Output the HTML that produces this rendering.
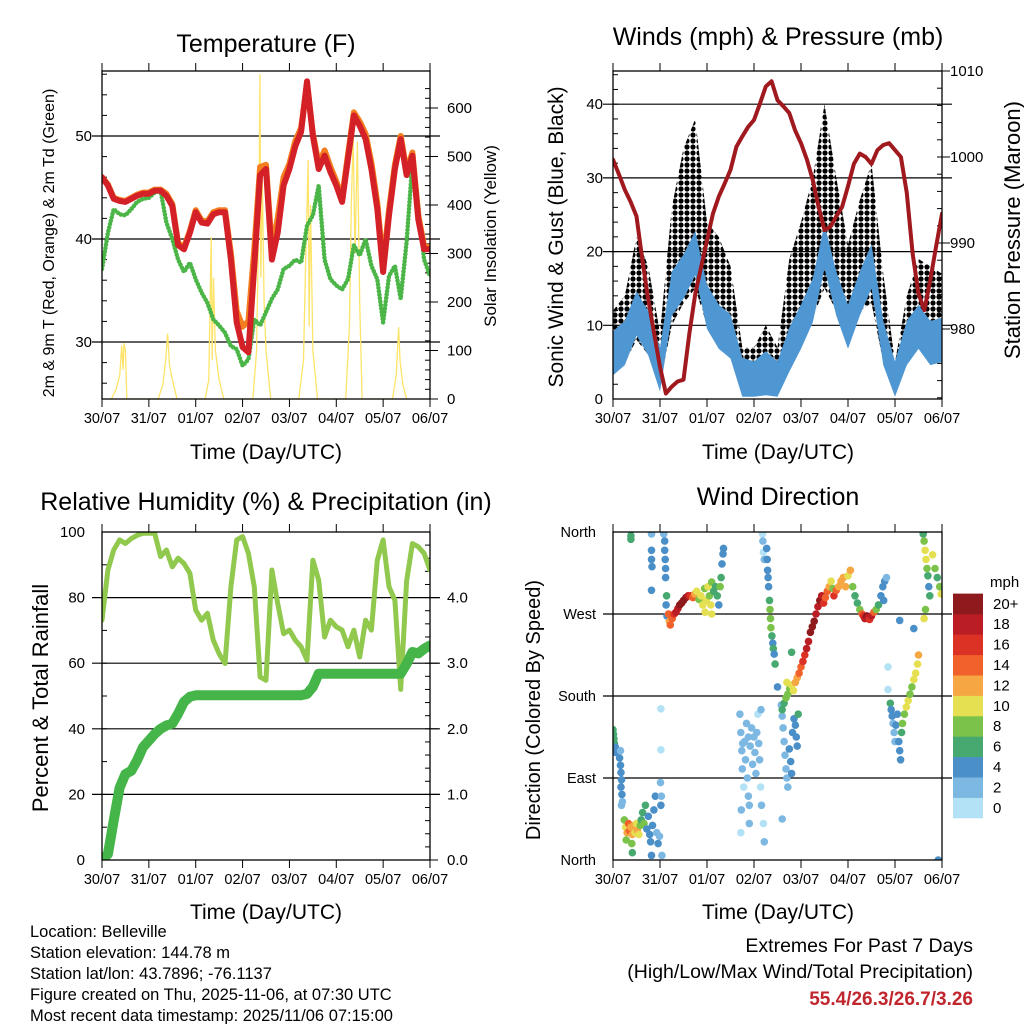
<!DOCTYPE html>
<html><head><meta charset="utf-8"><style>
html,body{margin:0;padding:0;background:#fff}
svg{display:block;font-family:"Liberation Sans",Arial,sans-serif}
</style></head><body>
<svg id="c" width="1024" height="1024" viewBox="0 0 1024 1024" xmlns="http://www.w3.org/2000/svg">
<rect width="1024" height="1024" fill="#fff"/>
<defs>
<clipPath id="cp1"><rect x="102" y="71" width="328" height="328"/></clipPath>
<clipPath id="cp2"><rect x="613" y="71" width="329" height="328"/></clipPath>
<clipPath id="cp3"><rect x="102" y="532" width="328" height="328"/></clipPath>
<clipPath id="cp4"><rect x="613" y="532" width="329" height="328"/></clipPath>
<pattern id="dots" width="6" height="6" patternUnits="userSpaceOnUse"><circle cx="3" cy="3" r="2.6" fill="#000"/></pattern>
</defs>
<text x="266" y="52" font-size="25" text-anchor="middle">Temperature (F)</text>
<text x="778" y="45" font-size="25" text-anchor="middle">Winds (mph) &amp; Pressure (mb)</text>
<text x="266" y="510" font-size="25" text-anchor="middle">Relative Humidity (%) &amp; Precipitation (in)</text>
<text x="778" y="505" font-size="25" text-anchor="middle">Wind Direction</text>
<text transform="translate(54,243) rotate(-90)" font-size="16" text-anchor="middle">2m &amp; 9m T (Red, Orange) &amp; 2m Td (Green)</text>
<text transform="translate(496,236) rotate(-90)" font-size="17" text-anchor="middle">Solar Insolation (Yellow)</text>
<text transform="translate(563,237) rotate(-90)" font-size="21" text-anchor="middle">Sonic Wind &amp; Gust (Blue, Black)</text>
<text transform="translate(1020,230) rotate(-90)" font-size="22" text-anchor="middle">Station Pressure (Maroon)</text>
<text transform="translate(48,698) rotate(-90)" font-size="22" text-anchor="middle">Percent &amp; Total Rainfall</text>
<text transform="translate(540,710) rotate(-90)" font-size="20" text-anchor="middle">Direction (Colored By Speed)</text>
<text x="266" y="459" font-size="21" text-anchor="middle">Time (Day/UTC)</text>
<text x="778" y="459" font-size="21" text-anchor="middle">Time (Day/UTC)</text>
<text x="266" y="919" font-size="21" text-anchor="middle">Time (Day/UTC)</text>
<text x="778" y="919" font-size="21" text-anchor="middle">Time (Day/UTC)</text>
<g font-size="16.5">
<text x="30" y="937">Location: Belleville</text>
<text x="30" y="958">Station elevation: 144.78 m</text>
<text x="30" y="979">Station lat/lon: 43.7896; -76.1137</text>
<text x="30" y="1000">Figure created on Thu, 2025-11-06, at 07:30 UTC</text>
<text x="30" y="1021">Most recent data timestamp: 2025/11/06 07:15:00</text>
</g>
<g font-size="19.5" text-anchor="end">
<text x="973" y="952">Extremes For Past 7 Days</text>
<text x="973" y="978">(High/Low/Max Wind/Total Precipitation)</text>
<text x="973" y="1005" font-size="19" font-weight="bold" fill="#c0262d">55.4/26.3/26.7/3.26</text>
</g>
<text x="990" y="587" font-size="15">mph</text>
</svg>
<script>
// ---------- data ----------
var dayLabels = ["30/07","31/07","01/07","02/07","03/07","04/07","05/07","06/07"];
var tempRed = [46,45.2,43.9,43.7,43.6,43.9,44.2,44.4,44.4, 44.7,44.7,44.2,43.2,39.4,39,40.6,42.6, 41.6,41.5,42.4,42.6,42.6,38,31.9,29.5, 29,37.4,46.2,46.8,38,40.6,45.2,46.8, 49,50.4,55.3,50,46.8,48.1,46.5,45.2, 43.6,47.8,52,51,49.7,46.8,42.9,36.8, 42.3,46.8,49.7,46.2,48.1,41.9,39,39];
var tempOrange = [46,45.3,44,43.8,43.7,44,44.3,44.5,44.5, 44.8,44.8,44.4,43.4,39.6,39.2,40.8,42.8, 41.8,41.7,42.6,42.8,42.8,38.6,33,31.5, 32,39,47,47.2,39,42,46,47.3, 49.5,50.8,55,50.2,47.3,48.6,47,45.6, 44,48.2,52.3,51.4,50.2,47.4,43.5,37.5, 42.8,47.2,50,46.6,48.4,42.3,39.3,39.2];
var tempDew = [37.1,40.6,42.9,42.4,42.3,42.9,43.6,43.9,44, 44.5,44.7,41.6,40,38,36.8,37.7,36.1, 34.8,33.8,32.2,31.6,30.9,29.6,29.3,27.7, 28.3,32.2,31.6,32.9,34.2,35.1,37.1,37.4, 38,37.7,41.3,42.3,45.2,38,36.1,35.5, 35.1,36.1,39.4,38.4,40,37.4,36.1,31.9, 36.4,37.4,34.2,39.7,47.5,43.2,38,36.4];
var solarT = [0.2,0.3,0.38,0.42,0.45,0.47,0.5,0.53, 1.2,1.3,1.36,1.4,1.44,1.5,1.6, 2.2,2.28,2.33,2.35,2.38,2.42,2.5,2.6, 3.22,3.3,3.35,3.37,3.39,3.42,3.46,3.5,3.6, 4.2,4.3,4.35,4.4,4.42,4.45,4.5,4.6, 5.2,5.28,5.32,5.36,5.4,5.45,5.5,5.55, 6.2,6.28,6.33,6.36,6.42,6.5];
var solarV = [0,20,50,110,60,115,100,0, 0,30,80,135,70,40,0, 0,40,334,80,250,100,40,0, 0,100,400,670,250,450,200,100,0, 0,80,300,493,150,400,100,0, 0,150,400,540,300,530,200,0, 0,50,148,80,30,0];
var pressure = [999.7,998,996.2,994.8,993.1,988,983.4,979.5,975.6, 972.5,973.3,973.9,974.1,979.5,984.1,987.2,990.3, 993.4,995.4,996.9,998.5,1001.2,1002.4,1003.5,1004.3, 1006.2,1008.2,1008.8,1006.6,1005.9,1005.1,1003.1,1001.6, 999.7,997.3,994.2,991.5,991.9,993.1,994.2,996.6, 999.2,1000.4,1000,999.2,1000.8,1001.4,1001.6,1000.8, 1000,995.8,988.8,984.1,982.2,985.7,989.6,993.4];
var windMean = [6.2,7.6,11.6,8.9,4,14.3,16.6,19.8,12.5,9.8,8.5,2.6,2.1,3.5,2.1,6.7,9.8,13.4,20.7,14.3,9.8,14.3,18,7.6,2.1,7.6,9.8,7.6,8];
var gustLo = [4,5,8,6,2,10,13,15,10,8,7,1,1,2,1,5,8,11,15,12,8,12,13,5,1,5,7,6,5];
var gustHi = [12,14,22,18,9,26,34,38,24,22,18,7,7,10,7,19,24,30,40,30,21,27,32,17,5,14,19,18,17];
var rh = [73.1,88.4,94.5,97.6,96.5,98,99,99.6,99.6, 99.6,92.5,94.5,89.4,92,90.4,87.4,76.2, 73.1,75.2,67,62.9,59.9,83.3,97.6,98.6, 93.5,83.3,55.8,54.8,88.4,78.2,69,70.1, 67,65,60.9,91.4,85.3,68,73.1,71.1, 70.1,65,70.1,61.9,73.1,70.1,91.4,97.6, 83.3,79.2,52,85,96.5,95.5,93.5,88.4];
var precip = [0,0.09,0.6,1.1,1.31,1.36,1.52,1.72,1.82, 1.92,2.0,2.05,2.08,2.23,2.41,2.49,2.51, 2.51,2.51,2.51,2.51,2.51,2.51,2.51,2.51, 2.51,2.51,2.51,2.51,2.51,2.51,2.51,2.51, 2.51,2.51,2.53,2.64,2.84,2.84,2.84,2.84, 2.84,2.84,2.84,2.84,2.84,2.84,2.84,2.84, 2.84,2.84,2.84,2.99,3.17,3.15,3.22,3.27];
var dirT = [0,0.01,0.02,0.03,0.05,0.06,0.14,0.16,0.17,0.18,0.17,0.19,0.2,0.18,0.16,
0.24,0.27,0.3,0.33,0.35,0.38,0.41,0.44,0.47,0.5,0.52,0.55,0.58,0.6,0.63,0.66,0.69,0.72,0.75,0.78,0.8,0.84,0.87,0.9,0.93,0.96,0.99,1.02,1.03,1.01,0.4,0.41,0.28,0.82,1.04,
0.38,0.38,0.82,0.82,0.82,0.83,0.82,1.08,1.1,1.1,1.11,1.12,1.12,1.14,1.13,1.15,1.02,1.02,
1.18,1.2,1.22,1.26,1.3,1.34,1.38,1.42,1.46,1.5,1.55,1.6,1.65,1.7,1.74,1.78,1.83,1.87,1.91,1.95,1.98,2.02,2.05,2.08,2.1,2.14,2.18,2.22,2.25,2.28,2.3,2.32,2.34,2.35,2.1,1.96,
3.18,3.19,3.2,3.22,3.27,3.28,3.29,3.3,3.31,3.33,3.34,3.35,3.36,3.38,3.4,3.41,3.43,3.45,3.5,
2.7,2.72,2.74,2.75,2.78,2.8,2.82,2.84,2.86,2.88,2.9,2.92,2.95,2.97,3.0,3.02,3.04,3.06,3.08,3.1,3.12,3.14,3.16,3.2,3.22,2.72,2.73,2.9,3.15,2.88,2.76,
3.58,3.6,3.62,3.64,3.66,3.68,3.7,3.72,3.75,3.78,3.8,3.82,3.85,3.88,3.9,3.92,3.94,3.6,
3.6,3.64,3.68,3.72,3.76,3.8,3.84,3.88,3.92,3.96,4.0,4.04,4.08,4.12,4.16,4.2,4.24,4.28,4.32,4.36,4.4,4.44,4.48,4.52,4.56,4.6,4.64,4.68,3.8,3.7,
4.7,4.75,4.8,4.85,4.9,4.95,5.0,5.05,5.1,5.15,5.2,5.25,5.3,5.33,5.36,5.4,5.43,5.46,5.5,5.55,5.6,5.65,5.7,5.74,5.78,5.82,5.76,
5.9,5.92,5.94,5.96,5.98,6.0,6.02,6.05,6.08,6.1,6.12,6.14,6.16,6.2,6.24,6.28,6.32,6.36,6.4,6.44,6.48,6.5,6.1,6.4,5.85,5.85,
6.6,6.62,6.64,6.66,6.68,6.7,6.72,6.74,6.8,6.85,6.9,6.95,6.98,6.65,6.62,6.92];
var dirV = [143,138,133,128,124,118,112,104,96,88,80,72,64,60,120,
44,36,30,40,32,36,28,38,30,40,32,28,38,44,52,40,60,34,48,28,20,38,55,70,30,18,26,60,70,85,18,8,22,5,5,
356,352,358,340,330,322,296,358,350,340,330,320,310,290,280,268,166,121,
270,262,258,265,270,272,276,280,282,285,288,290,290,288,292,295,286,290,280,298,285,300,290,280,305,295,300,290,280,300,310,325,336,342,270,272,
358,350,338,330,342,330,318,310,300,285,275,265,255,246,238,232,226,215,190,
160,140,120,100,80,130,110,150,90,70,60,125,145,105,135,118,95,140,160,128,110,80,60,40,20,30,55,40,165,135,128,
170,158,145,130,115,100,90,80,122,108,95,140,155,148,135,125,160,45,
165,172,178,182,188,192,186,195,200,205,212,218,225,232,240,250,256,262,270,278,285,290,282,288,295,300,306,298,228,195,
290,296,300,306,310,300,312,318,300,290,282,275,270,268,265,268,266,264,268,272,275,280,290,300,306,310,285,
172,165,158,150,140,130,148,160,130,120,110,140,150,160,168,175,182,190,198,205,215,225,263,254,212,187,
358,350,340,330,320,312,300,290,335,320,310,300,292,275,265,0];
var dirS = [6,6,7,6,5,4,4,4,4,4,4,4,3,2,2,
8,10,12,14,14,13,12,12,11,10,12,10,8,6,6,8,6,5,4,4,4,4,4,4,3,4,3,4,3,2,8,7,8,4,3,
6,7,3,4,4,4,4,3,4,4,4,4,4,6,5,4,1,1,
14,12,14,14,16,18,18,20,20,20,20,18,16,14,12,10,8,10,10,9,10,10,8,10,8,7,6,6,4,8,6,4,4,4,10,10,
1,2,1,2,4,4,4,4,4,6,8,8,8,6,4,6,4,6,4,
2,2,2,2,1,2,2,2,2,2,2,2,3,2,2,3,2,2,1,2,2,1,2,1,2,1,2,2,2,3,3,
2,2,2,2,3,3,2,2,4,5,4,4,5,4,4,4,6,2,
6,7,8,8,8,10,10,12,12,14,14,16,16,18,18,20,20,20,18,18,20,18,16,14,14,12,10,8,6,10,
16,14,12,12,12,12,10,12,8,6,6,8,14,16,18,20,18,16,18,14,8,6,4,4,4,3,4,
6,4,4,2,2,2,4,4,4,4,4,6,8,8,10,10,8,8,10,10,10,12,4,4,1,1,
6,8,10,10,8,6,4,6,10,8,6,8,10,8,10,4];
var cbColors = ["#b3e2f6","#7cb8e2","#4a8fc7","#47a870","#7bc24a","#e5e051","#f6a643","#f0612b","#dc3226","#bb1d24","#8e1a1d"];
var cbLabels = ["0","2","4","6","8","10","12","14","16","18","20+"];

// ---------- helpers ----------
var NS = "http://www.w3.org/2000/svg";
var svg = document.getElementById("c");
function mk(tag, parent){ var e = document.createElementNS(NS, tag); (parent||svg).appendChild(e); return e; }
function attrs(e, o){ for (var k in o) e.setAttribute(k, o[k]); return e; }
function line(p, x1,y1,x2,y2, col, w){ var l = mk("line", p); attrs(l,{x1:x1,y1:y1,x2:x2,y2:y2,stroke:col||"#000","stroke-width":w||1}); return l; }
function txt(p, x, y, s, size, anchor){ var t = mk("text", p); attrs(t,{x:x,y:y,"font-size":size||14,"text-anchor":anchor||"middle"}); t.textContent = s; return t; }

var panels = [
  {x0:102,x1:430,y0:71,y1:399,clip:"cp1",name:"temperature"},
  {x0:613,x1:942,y0:71,y1:399,clip:"cp2",name:"winds"},
  {x0:102,x1:430,y0:532,y1:860,clip:"cp3",name:"humidity"},
  {x0:613,x1:942,y0:532,y1:860,clip:"cp4",name:"direction"}
];
function xs(p, d){ return p.x0 + d*(p.x1-p.x0)/7; }
function tq(i){ return i/8; }

var P1 = panels[0], P2 = panels[1], P3 = panels[2], P4 = panels[3];
function yTemp(v){ return 342 - (v-30)*10.3; }
function ySolar(v){ return 399 - v*0.485; }
function yWind(v){ return 399 - v*7.37; }
function yPres(v){ return 157 - (v-1000)*8.6; }
function yRH(v){ return 860 - v*3.28; }
function yPr(v){ return 860 - v*65.6; }
function yDir(v){ return 860 - v*0.911; }

function frame(p){
  var g = mk("g");
  
  
  for (var i=0;i<8;i++){
    var x = xs(p,i);
    line(g, x, p.y0-8, x, p.y0);
    line(g, x, p.y1, x, p.y1+8);
    var t = txt(g, x, p.y1+24, dayLabels[i], 14.5);
    
    
  }
  return g;
}
function hgrid(g, p, y){ line(g, p.x0-10, y, p.x1+10, y, "#000", 1.2); }
function box(p){
  var r = mk("rect"); attrs(r,{x:p.x0,y:p.y0,width:p.x1-p.x0,height:p.y1-p.y0,fill:"none",stroke:"#000","stroke-width":1.3});
  
  
}
function pathD(xsArr, ysArr){ var d=""; for (var i=0;i<xsArr.length;i++) d += (i?"L":"M")+xsArr[i].toFixed(1)+","+ysArr[i].toFixed(1); return d; }
function series(p, vals, yf, col, w, name, dash){
  var X=[],Y=[]; for (var i=0;i<vals.length;i++){ X.push(xs(p,tq(i))); Y.push(yf(vals[i])); }
  var e = mk("path"); attrs(e,{d:pathD(X,Y),fill:"none",stroke:col,"stroke-width":w,"stroke-linejoin":"round","stroke-linecap":"round","clip-path":"url(#"+p.clip+")"});
  if (dash) e.setAttribute("stroke-dasharray", dash);
  
  
  return e;
}

// ---------- panel 1 ----------
(function(){
  var g = frame(P1);
  [30,40,50].forEach(function(v){ hgrid(g,P1,yTemp(v)); txt(g,92,yTemp(v)+5,String(v),15,"end"); });
  for (var v=26; v<=56; v+=2) line(g,P1.x0,yTemp(v),P1.x0+5,yTemp(v));
  for (var s=0; s<=650; s+=20) line(g,P1.x1-5,ySolar(s),P1.x1,ySolar(s));
  for (var s=0; s<=600; s+=100){ line(g,P1.x1,ySolar(s),P1.x1+8,ySolar(s)); txt(g,447,ySolar(s)+5,String(s),15,"start"); }
  var X=[],Y=[]; for (var i=0;i<solarT.length;i++){ X.push(xs(P1,solarT[i])); Y.push(ySolar(solarV[i])); }
  var sp = mk("path"); attrs(sp,{d:pathD(X,Y),fill:"none",stroke:"#fde469","stroke-width":1.3,"clip-path":"url(#cp1)"});
  
  
  series(P1,tempDew,yTemp,"#4cb548",4.5,"dewpoint-2m-dots","0.1 3.4");
  series(P1,tempOrange,yTemp,"#f47f20",6,"temp-9m-line");
  series(P1,tempRed,yTemp,"#d42027",6,"temp-2m-line");
  box(P1);
})();

// ---------- panel 2 ----------
(function(){
  var g = frame(P2);
  [0,10,20,30,40].forEach(function(v){ if(v>0) hgrid(g,P2,yWind(v)); txt(g,603,yWind(v)+5,String(v),15,"end"); });
  for (var v=0; v<=44; v+=2) line(g,P2.x0,yWind(v),P2.x0+5,yWind(v));
  for (var p=972; p<=1011; p+=2) line(g,P2.x1-5,yPres(p),P2.x1,yPres(p));
  [980,990,1000,1010].forEach(function(v){ line(g,P2.x1,yPres(v),P2.x1+8,yPres(v)); txt(g,950,yPres(v)+5,String(v),15,"start"); });
  function band(lo, hi, col, name){
    var X=[],Y=[],i;
    for (i=0;i<lo.length;i++){ X.push(xs(P2,i/4)); Y.push(yWind(hi[i])); }
    for (i=lo.length-1;i>=0;i--){ X.push(xs(P2,i/4)); Y.push(yWind(lo[i])); }
    var e = mk("path"); attrs(e,{d:pathD(X,Y)+"Z",fill:col,stroke:"none","clip-path":"url(#cp2)"});
    
    
  }
  band(gustLo, gustHi, "url(#dots)", "gust-scatter");
  var wl = windMean.map(function(v){ return Math.max(0.3, v-3); });
  var wh = windMean.map(function(v){ return v+3; });
  band(wl, wh, "#4f97d2", "sonic-wind-band");
  series(P2,pressure,yPres,"#a0191e",4,"station-pressure-line");
  box(P2);
})();

// ---------- panel 3 ----------
(function(){
  var g = frame(P3);
  [0,20,40,60,80,100].forEach(function(v){ if(v>0&&v<100) hgrid(g,P3,yRH(v)); txt(g,85,yRH(v)+5,String(v),15,"end"); });
  for (var v=0; v<=100; v+=10) line(g,P3.x0,yRH(v),P3.x0+5,yRH(v));
  for (var p=0; p<=5; p+=0.2) line(g,P3.x1-5,yPr(p),P3.x1,yPr(p));
  [0,1,2,3,4].forEach(function(v){ line(g,P3.x1,yPr(v),P3.x1+8,yPr(v)); txt(g,447,yPr(v)+5,v.toFixed(1),15,"start"); });
  series(P3,rh,yRH,"#91c84e",5,"relative-humidity-line");
  series(P3,precip,yPr,"#45b549",10,"total-rainfall-line");
  box(P3);
})();

// ---------- panel 4 ----------
function speedColor(s){ var k = Math.floor(s/2); if (k>10) k=10; if (k<0) k=0; return cbColors[k]; }
(function(){
  var g = frame(P4);
  var names = ["North","East","South","West","North"];
  for (var i=0;i<5;i++){ var y=yDir(i*90); if(i>0&&i<4) hgrid(g,P4,y); txt(g,596,y+5,names[i],14.5,"end"); }
  var pg = mk("g"); pg.setAttribute("clip-path","url(#cp4)");
  
  
  for (var j=0;j<dirT.length;j++){
    var c = mk("circle", pg);
    attrs(c,{cx:xs(P4,dirT[j]).toFixed(1),cy:yDir(dirV[j]).toFixed(1),r:3.8,fill:speedColor(dirS[j])});
    
    
  }
  box(P4);
  var cb = mk("g");
  
  
  var h = 20.4;
  for (var k=0;k<cbColors.length;k++){
    var y = 818 - (k+1)*h;
    var r = mk("rect", cb); attrs(r,{x:953,y:y.toFixed(1),width:30,height:(h+0.3).toFixed(1),fill:cbColors[k]});
    
    
    var t = txt(cb, 993, y+h/2+5, cbLabels[k], 15, "start");
    
    
  }
})();
</script>
</body></html>
